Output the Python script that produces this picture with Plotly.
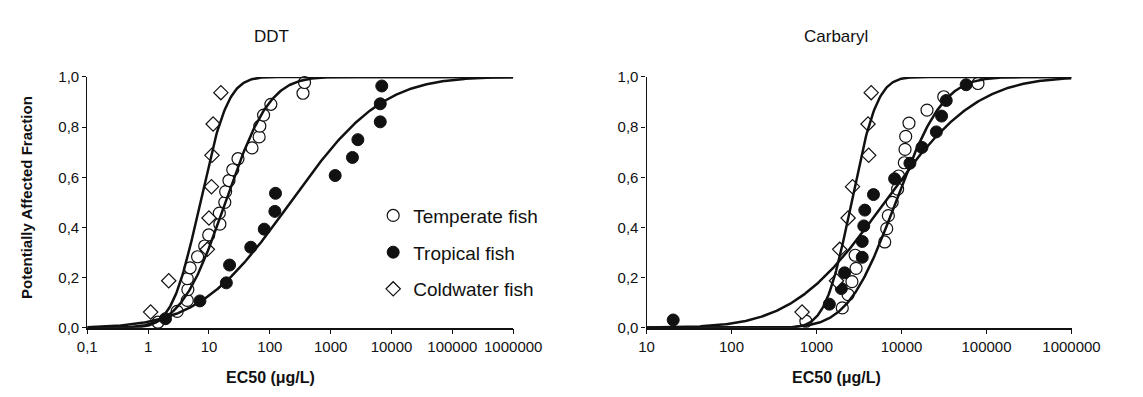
import math
import numpy as np
import plotly.graph_objects as go

# ---------------- data ----------------
# DDT panel (EC50 in ug/L, potentially affected fraction)
ddt_temperate_x = [1.45, 3.0, 4.4, 4.5, 4.4, 4.9, 6.5, 8.5, 9.9, 15.1, 14.8, 18.2,
                   18.8, 21.3, 24.6, 30, 51, 66.8, 68.5, 79, 104, 351, 372]
ddt_temperate_y = [0.022, 0.065, 0.109, 0.152, 0.196, 0.239, 0.283, 0.326, 0.370,
                   0.413, 0.457, 0.500, 0.543, 0.587, 0.630, 0.674, 0.717, 0.761,
                   0.804, 0.848, 0.891, 0.935, 0.978]
ddt_tropical_x = [1.93, 7.1, 19.3, 21.8, 48.6, 81, 121, 124, 1186, 2280, 2800,
                  6530, 6530, 6918]
ddt_tropical_y = [0.036, 0.107, 0.179, 0.250, 0.321, 0.393, 0.464, 0.536, 0.607,
                  0.679, 0.750, 0.821, 0.893, 0.964]
ddt_coldwater_x = [1.1, 2.18, 9.4, 10.0, 11.0, 11.2, 11.7, 15.7]
ddt_coldwater_y = [0.0625, 0.1875, 0.3125, 0.4375, 0.5625, 0.6875, 0.8125, 0.9375]

# Carbaryl panel
carb_temperate_x = [750, 2010, 2355, 2610, 2920, 2850, 6350, 6700, 7000, 7770,
                    9000, 9250, 10800, 11000, 11200, 12250, 19950, 31400, 79400]
carb_temperate_y = [0.026, 0.079, 0.132, 0.184, 0.237, 0.289, 0.342, 0.395, 0.447,
                    0.500, 0.553, 0.605, 0.658, 0.711, 0.763, 0.816, 0.868, 0.921,
                    0.974]
carb_tropical_x = [20.6, 1416, 1960, 2140, 3450, 3450, 3600, 3700, 4680, 8300,
                   12560, 17400, 25700, 29600, 33600, 57600]
carb_tropical_y = [0.031, 0.094, 0.156, 0.219, 0.281, 0.344, 0.406, 0.469, 0.531,
                   0.594, 0.656, 0.719, 0.781, 0.844, 0.906, 0.969]
carb_coldwater_x = [676, 1718, 1875, 2353, 2655, 4110, 4035, 4400]
carb_coldwater_y = [0.0625, 0.1875, 0.3125, 0.4375, 0.5625, 0.6875, 0.8125, 0.9375]

# fitted log-normal SSD curves: (log10 mean, log10 sd)
ddt_fit_mu = [1.27, 2.34, 0.855]        # temperate, tropical, coldwater
ddt_fit_sigma = [0.57, 1.18, 0.36]
carb_fit_mu = [3.93, 3.80, 3.41]
carb_fit_sigma = [0.44, 0.85, 0.24]

ddt_xtick_vals = [0.1, 1, 10, 100, 1000, 10000, 100000, 1000000]
ddt_xtick_text = ["0,1", "1", "10", "100", "1000", "10000", "100000", "1000000"]
carb_xtick_vals = [10, 100, 1000, 10000, 100000, 1000000]
carb_xtick_text = ["10", "100", "1000", "10000", "100000", "1000000"]
ytick_vals = [0, 0.2, 0.4, 0.6, 0.8, 1.0]
ytick_text = ["0,0", "0,2", "0,4", "0,6", "0,8", "1,0"]

series_names = ["Temperate fish", "Tropical fish", "Coldwater fish"]

# ---------------- figure ----------------
W, H = 1143, 397
FONT = "Liberation Sans, Arial, sans-serif"
INK = "#111111"


def px(x):
    return x / W


def py(y):
    return 1 - y / H


def lognorm_cdf(logx, mu, sigma):
    return [0.5 * (1 + math.erf((v - mu) / (sigma * math.sqrt(2)))) for v in logx]


fig = go.Figure()

marker_styles = [
    dict(symbol="circle", size=12, color="white", line=dict(color=INK, width=1.2)),
    dict(symbol="circle", size=12, color=INK, line=dict(color=INK, width=1)),
    dict(symbol="diamond", size=11, color="white", line=dict(color=INK, width=1.2)),
]

panels = [
    ("x", "y", [ddt_temperate_x, ddt_tropical_x, ddt_coldwater_x],
     [ddt_temperate_y, ddt_tropical_y, ddt_coldwater_y],
     ddt_fit_mu, ddt_fit_sigma, (-1, 6), True),
    ("x2", "y2", [carb_temperate_x, carb_tropical_x, carb_coldwater_x],
     [carb_temperate_y, carb_tropical_y, carb_coldwater_y],
     carb_fit_mu, carb_fit_sigma, (1, 6), False),
]

for xa, ya, xs, ys, mus, sigmas, lrange, show_leg in panels:
    for i in range(3):
        fig.add_trace(go.Scatter(
            x=xs[i], y=ys[i], mode="markers", xaxis=xa, yaxis=ya,
            marker=marker_styles[i], name=series_names[i],
            showlegend=show_leg, legendgroup=f"g{i}", cliponaxis=False))
    grid = np.linspace(lrange[0], lrange[1], 400)
    for i in range(3):
        fig.add_trace(go.Scatter(
            x=10 ** grid, y=lognorm_cdf(grid, mus[i], sigmas[i]), mode="lines",
            xaxis=xa, yaxis=ya, line=dict(color=INK, width=2.5),
            showlegend=False, hoverinfo="skip", cliponaxis=False))

tickfont = dict(family=FONT, size=15, color=INK)
common_x = dict(type="log", showgrid=False, zeroline=False, showline=True,
                linecolor=INK, linewidth=1.5, ticks="outside", ticklen=5,
                tickwidth=1.2, tickcolor=INK, tickfont=tickfont)
common_y = dict(range=[0, 1], showgrid=False, zeroline=False, showline=True,
                linecolor=INK, linewidth=1.2, ticks="outside", ticklen=4,
                tickwidth=1.2, tickcolor=INK, tickfont=tickfont,
                tickvals=ytick_vals, ticktext=ytick_text)

ydom = [py(333), py(71)]
fig.update_layout(
    width=W, height=H, margin=dict(l=0, r=0, t=0, b=0),
    paper_bgcolor="white", plot_bgcolor="white",
    font=dict(family=FONT, color=INK),
    xaxis=dict(common_x, domain=[px(80), px(521)], range=[-1, 6],
               tickvals=ddt_xtick_vals, ticktext=ddt_xtick_text, anchor="y"),
    yaxis=dict(common_y, domain=ydom, anchor="x"),
    xaxis2=dict(common_x, domain=[px(659), px(1099)], range=[1, 6],
                tickvals=carb_xtick_vals, ticktext=carb_xtick_text, anchor="y2"),
    yaxis2=dict(common_y, domain=ydom, anchor="x2"),
    legend=dict(x=px(376), y=py(196), xanchor="left", yanchor="top",
                font=dict(family=FONT, size=19, color=INK),
                bgcolor="rgba(0,0,0,0)", tracegroupgap=9, itemwidth=30),
    showlegend=True,
)

annotations = [
    dict(text="DDT", x=px(271), y=py(29), font=dict(size=17)),
    dict(text="Carbaryl", x=px(855), y=py(29), font=dict(size=17)),
    dict(text="<b>EC50 (μg/L)</b>", x=px(270), y=py(385), font=dict(size=16)),
    dict(text="<b>EC50 (μg/L)</b>", x=px(856), y=py(385), font=dict(size=16)),
    dict(text="<b>Potentially Affected Fraction</b>", x=px(17), y=py(197),
         textangle=-90, font=dict(size=15)),
]
for a in annotations:
    a.update(xref="paper", yref="paper", showarrow=False, xanchor="center",
             yanchor="middle")
    a["font"].update(family=FONT, color=INK)
fig.update_layout(annotations=annotations)

fig.write_html("out.html")
